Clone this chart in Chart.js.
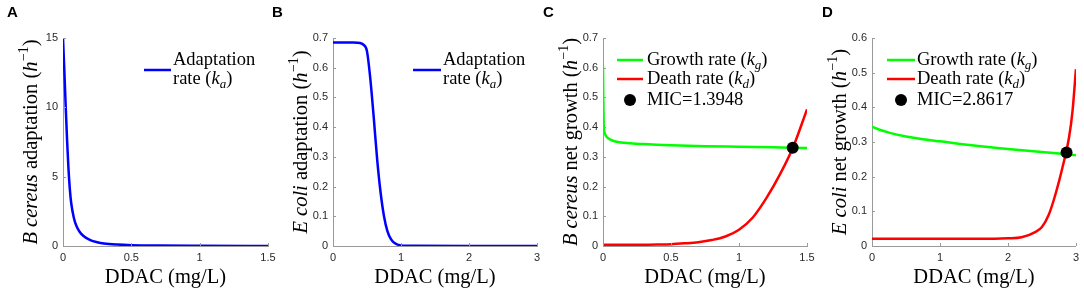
<!DOCTYPE html>
<html>
<head>
<meta charset="utf-8">
<script src="https://cdn.jsdelivr.net/npm/chart.js@4.4.0/dist/chart.umd.min.js"></script>
<style>
html, body { margin: 0; padding: 0; background: #fff; }
#wrap { position: relative; width: 1084px; height: 288px; overflow: hidden; }
#wrap canvas { position: absolute; top: 0; }
</style>
</head>
<body>
<div id="wrap">
  <canvas id="pa" width="290" height="288" style="left:0px"></canvas>
  <canvas id="pb" width="290" height="288" style="left:270px"></canvas>
  <canvas id="pc" width="290" height="288" style="left:540px"></canvas>
  <canvas id="pd" width="274" height="288" style="left:810px"></canvas>
</div>
<script>
// A: B cereus adaptation rate vs DDAC (mg/L)
const concA  = [0, 0.01, 0.02, 0.03, 0.04, 0.05, 0.06, 0.08, 0.1, 0.12, 0.15, 0.2, 0.25, 0.3, 0.4, 0.5, 0.7, 1.0, 1.5];
const adaptA = [15, 12.6, 10.0, 7.6, 5.6, 4.1, 3.1, 2.0, 1.4, 1.05, 0.72, 0.42, 0.27, 0.18, 0.1, 0.06, 0.03, 0.015, 0.007];

// B: E coli adaptation rate
const concB  = [0, 0.3, 0.4, 0.45, 0.5, 0.55, 0.6, 0.65, 0.7, 0.75, 0.8, 0.85, 0.9, 1.0, 1.2, 2.0, 3.0];
const adaptB = [0.685, 0.685, 0.683, 0.677, 0.655, 0.56, 0.43, 0.29, 0.18, 0.1, 0.05, 0.024, 0.011, 0.002, 0.0005, 0, 0];

// C: B cereus growth / death rates
const concC   = [0, 0.002, 0.005, 0.01, 0.02, 0.04, 0.07, 0.1, 0.2, 0.3, 0.5, 0.75, 1.0, 1.25, 1.5];
const growthC = [0.605, 0.5, 0.41, 0.385, 0.372, 0.362, 0.355, 0.351, 0.346, 0.343, 0.339, 0.336, 0.334, 0.332, 0.33];
const concCd  = [0, 0.2, 0.4, 0.5, 0.6, 0.7, 0.8, 0.9, 1.0, 1.1, 1.2, 1.3, 1.4, 1.5];
const deathC  = [0.004, 0.004, 0.005, 0.006, 0.009, 0.013, 0.02, 0.032, 0.055, 0.095, 0.16, 0.24, 0.335, 0.46];
const micC = [1.3948, 0.331];

// D: E coli growth / death rates
const concD   = [0, 0.1, 0.25, 0.5, 0.75, 1.0, 1.5, 2.0, 2.5, 3.0];
const growthD = [0.344, 0.336, 0.327, 0.316, 0.308, 0.302, 0.29, 0.28, 0.271, 0.262];
const concDd  = [0, 1.0, 1.8, 2.0, 2.2, 2.4, 2.5, 2.6, 2.7, 2.8, 2.9, 2.95, 3.0];
const deathD  = [0.021, 0.021, 0.021, 0.022, 0.025, 0.04, 0.055, 0.09, 0.15, 0.225, 0.315, 0.39, 0.51];
const micD = [2.8617, 0.27];

// tick labels
const xTicksHalf = [0, 0.5, 1, 1.5];
const xTicksThree = [0, 1, 2, 3];
const yTicksA = [0, 5, 10, 15];
const yTicksSeven = [0, 0.1, 0.2, 0.3, 0.4, 0.5, 0.6, 0.7];
const yTicksSix = [0, 0.1, 0.2, 0.3, 0.4, 0.5, 0.6];

const SERIF = '"Liberation Serif", "Times New Roman", serif';
const SANS = '"Liberation Sans", Arial, sans-serif';
const AXIS_GREY = '#9a9a9a';
const TITLE_SIZE = 20.5;

const pts = (xs, ys) => xs.map((x, i) => ({ x: x, y: ys[i] }));

// draws a run of text pieces: [text, 'i' | 'sup' | 'isub' ...]
function drawRich(ctx, segs, x, y, size, align) {
  const parts = segs.map(s => {
    const st = s[1] || '';
    const small = st.includes('sup') || st.includes('sub');
    const sz = small ? size * 0.7 : size;
    const font = (st.includes('i') ? 'italic ' : '') + sz + 'px ' + SERIF;
    ctx.font = font;
    const dy = st.includes('sup') ? -size * 0.42 : st.includes('sub') ? size * 0.2 : 0;
    return { t: s[0], font: font, w: ctx.measureText(s[0]).width, dy: dy };
  });
  const total = parts.reduce((a, p) => a + p.w, 0);
  let cx = align === 'center' ? x - total / 2 : x;
  ctx.textAlign = 'left';
  ctx.textBaseline = 'alphabetic';
  parts.forEach(p => { ctx.font = p.font; ctx.fillText(p.t, cx, y + p.dy); cx += p.w; });
}

const decor = {
  id: 'decor',
  afterDraw(chart, args, o) {
    const ctx = chart.ctx, a = chart.chartArea;
    const sx = chart.scales.x, sy = chart.scales.y;
    ctx.save();
    // small inward tick marks
    ctx.strokeStyle = AXIS_GREY;
    ctx.lineWidth = 1;
    sx.ticks.forEach(t => {
      const px = Math.round(sx.getPixelForValue(t.value)) + 0.5;
      ctx.beginPath(); ctx.moveTo(px, a.bottom); ctx.lineTo(px, a.bottom - 3); ctx.stroke();
    });
    sy.ticks.forEach(t => {
      const py = Math.round(sy.getPixelForValue(t.value)) + 0.5;
      ctx.beginPath(); ctx.moveTo(a.left, py); ctx.lineTo(a.left + 3, py); ctx.stroke();
    });
    ctx.fillStyle = '#000';
    // panel letter
    ctx.font = 'bold 15px ' + SANS;
    ctx.textBaseline = 'middle';
    ctx.textAlign = 'left';
    ctx.fillText(o.letter, o.letterX, 13);
    // axis titles
    drawRich(ctx, [['DDAC (mg/L)']], (a.left + a.right) / 2, 283, TITLE_SIZE, 'center');
    ctx.save();
    ctx.translate(a.left - 33, (a.top + a.bottom) / 2);
    ctx.rotate(-Math.PI / 2);
    drawRich(ctx, o.yTitle, 0, 7, TITLE_SIZE, 'center');
    ctx.restore();
    // legend
    o.legend.forEach(e => {
      if (e.line) {
        ctx.strokeStyle = e.line;
        ctx.lineWidth = 2.5;
        ctx.beginPath(); ctx.moveTo(e.x1, e.y); ctx.lineTo(e.x2, e.y); ctx.stroke();
      } else {
        ctx.fillStyle = '#000';
        ctx.beginPath(); ctx.arc(e.cx, e.y, 6, 0, Math.PI * 2); ctx.fill();
      }
      ctx.fillStyle = '#000';
      e.text.forEach(l => drawRich(ctx, l.segs, l.x, l.y, 18.5, 'left'));
    });
    ctx.restore();
  }
};

function axis(max, ticks, isX) {
  return {
    type: 'linear', min: 0, max: max,
    afterBuildTicks: s => { s.ticks = ticks.map(v => ({ value: v })); },
    afterFit: s => { if (isX) s.height = 42; else s.width = s.chart.options.plugins.decor.left; },
    grid: { display: true, drawOnChartArea: false, drawTicks: false },
    border: { display: true, color: AXIS_GREY, width: 1 },
    ticks: {
      padding: 5, autoSkip: false, maxRotation: 0,
      font: { family: SANS, size: 11 }, color: '#2a2a2a',
      callback: v => String(v)
    }
  };
}

function panel(id, cfg) {
  const canvas = document.getElementById(id);
  cfg.decor.left = cfg.left;
  return new Chart(canvas, {
    type: 'line',
    data: { datasets: cfg.datasets },
    options: {
      responsive: false, animation: false, devicePixelRatio: 1,
      layout: { padding: { left: 0, right: canvas.width - cfg.right, top: 38, bottom: 0 } },
      elements: {
        point: { radius: 0, hoverRadius: 0 },
        line: { borderWidth: 2.5, cubicInterpolationMode: 'monotone' }
      },
      plugins: { legend: { display: false }, tooltip: { enabled: false }, decor: cfg.decor },
      scales: { x: axis(cfg.xMax, cfg.xTicks, true), y: axis(cfg.yMax, cfg.yTicks, false) }
    },
    plugins: [decor]
  });
}

const line = (data, color) => ({ data: data, borderColor: color, backgroundColor: color, fill: false, order: 1 });
const dot = (p) => ({ data: [{ x: p[0], y: p[1] }], showLine: false, pointRadius: 6, backgroundColor: '#000', borderColor: '#000', borderWidth: 0, order: 0 });

const growthLegend = (mic, x1, x2, tx) => [
  { line: '#00ff00', x1: x1, x2: x2, y: 60, text: [{ x: tx, y: 65, segs: [['Growth rate ('], ['k', 'i'], ['g', 'isub'], [')']] }] },
  { line: '#ff0000', x1: x1, x2: x2, y: 79, text: [{ x: tx, y: 84, segs: [['Death rate ('], ['k', 'i'], ['d', 'isub'], [')']] }] },
  { cx: (x1 + x2) / 2, y: 100, text: [{ x: tx, y: 105, segs: [['MIC=' + mic]] }] }
];
const adaptLegend = (x1, x2, tx) => [
  { line: '#0000ff', x1: x1, x2: x2, y: 70, text: [
    { x: tx, y: 65, segs: [['Adaptation']] },
    { x: tx, y: 84, segs: [['rate ('], ['k', 'i'], ['a', 'isub'], [')']] }
  ] }
];

panel('pa', {
  left: 63, right: 268, xMax: 1.5, yMax: 15, xTicks: xTicksHalf, yTicks: yTicksA,
  datasets: [line(pts(concA, adaptA), '#0000ff')],
  decor: { letter: 'A', letterX: 7,
    yTitle: [['B cereus', 'i'], [' adaptation ('], ['h', 'i'], ['\u22121', 'sup'], [')']],
    legend: adaptLegend(144, 171, 173) }
});

panel('pb', {
  left: 63, right: 267, xMax: 3, yMax: 0.7, xTicks: xTicksThree, yTicks: yTicksSeven,
  datasets: [line(pts(concB, adaptB), '#0000ff')],
  decor: { letter: 'B', letterX: 2,
    yTitle: [['E coli', 'i'], [' adaptation ('], ['h', 'i'], ['\u22121', 'sup'], [')']],
    legend: adaptLegend(143, 171, 173) }
});

panel('pc', {
  left: 63, right: 267, xMax: 1.5, yMax: 0.7, xTicks: xTicksHalf, yTicks: yTicksSeven,
  datasets: [
    line(pts(concC, growthC), '#00ff00'),
    line(pts(concCd, deathC), '#ff0000'),
    dot(micC)
  ],
  decor: { letter: 'C', letterX: 3,
    yTitle: [['B cereus', 'i'], [' net growth ('], ['h', 'i'], ['\u22121', 'sup'], [')']],
    legend: growthLegend('1.3948', 77, 103, 107) }
});

panel('pd', {
  left: 62, right: 266, xMax: 3, yMax: 0.6, xTicks: xTicksThree, yTicks: yTicksSix,
  datasets: [
    line(pts(concD, growthD), '#00ff00'),
    line(pts(concDd, deathD), '#ff0000'),
    dot(micD)
  ],
  decor: { letter: 'D', letterX: 12,
    yTitle: [['E coli', 'i'], [' net growth ('], ['h', 'i'], ['\u22121', 'sup'], [')']],
    legend: growthLegend('2.8617', 77, 105, 107) }
});
</script>
</body>
</html>
